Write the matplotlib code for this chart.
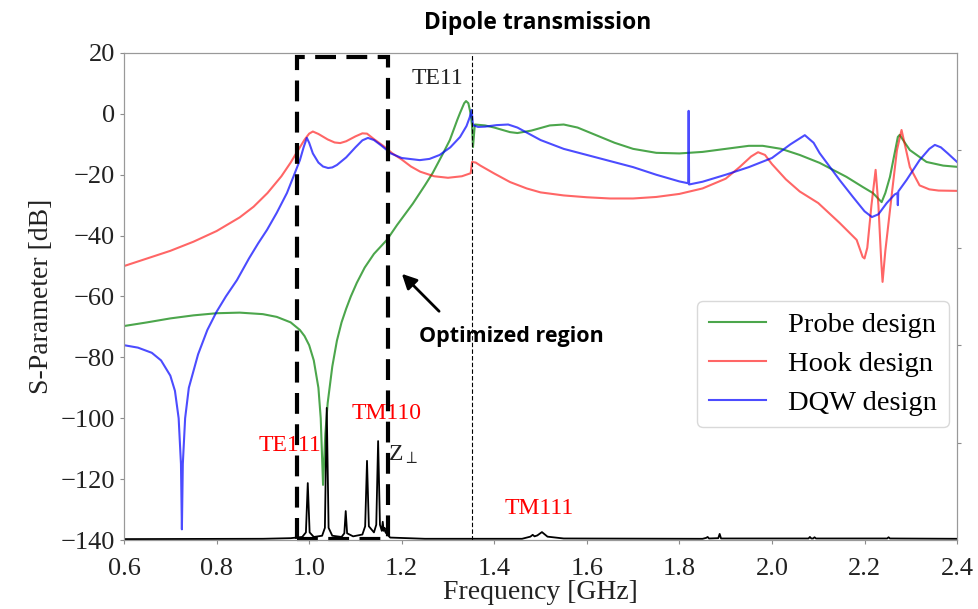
import numpy as np
import matplotlib.pyplot as plt
from matplotlib.patches import Rectangle

plt.rcParams["font.family"] = ["Liberation Serif", "DejaVu Serif"]
plt.rcParams["mathtext.fontset"] = "stix"

# Probe design (green)
probe_f = [0.60, 0.65, 0.70, 0.75, 0.80, 0.85, 0.90, 0.93, 0.96, 0.98, 0.99, 1.00, 1.01, 1.02,
           1.025, 1.030, 1.035, 1.040, 1.050, 1.060, 1.070, 1.080, 1.090, 1.103, 1.120, 1.140,
           1.168, 1.190, 1.224, 1.250, 1.267, 1.290, 1.304, 1.320, 1.326, 1.335, 1.339, 1.344,
           1.349, 1.352, 1.354, 1.358, 1.380, 1.400, 1.434, 1.450, 1.480, 1.520, 1.550, 1.580,
           1.620, 1.660, 1.700, 1.750, 1.800, 1.850, 1.900, 1.950, 1.980, 2.020, 2.060, 2.103,
           2.161, 2.196, 2.218, 2.237, 2.245, 2.255, 2.265, 2.272, 2.276, 2.285, 2.298, 2.334,
           2.370, 2.400]
probe_db = [-69.7, -68.5, -67.2, -66.2, -65.5, -65.3, -65.8, -66.7, -68.5, -71.0, -73.0, -76.0, -81.0, -90.0,
            -100.0, -121.9, -105.0, -95.0, -83.0, -74.5, -68.5, -64.0, -60.0, -55.5, -50.5, -46.0,
            -41.4, -36.5, -29.5, -23.5, -19.4, -12.8, -8.6, -2.0, 0.3, 3.5, 4.2, 3.5,
            0.0, -4.0, -10.9, -3.5, -3.8, -4.5, -6.0, -6.3, -5.5, -3.8, -3.5, -4.5,
            -7.0, -9.5, -11.5, -12.8, -13.0, -12.5, -11.5, -10.5, -10.5, -11.5, -13.5, -16.1,
            -20.7, -24.0, -26.0, -29.0, -26.0, -20.7, -13.0, -7.6, -6.9, -9.0, -11.9, -15.8,
            -17.0, -17.4]

# Hook design (red)
hook_f = [0.60, 0.65, 0.70, 0.75, 0.80, 0.85, 0.88, 0.91, 0.94, 0.96, 0.975, 0.99, 1.00, 1.008,
          1.02, 1.04, 1.055, 1.067, 1.08, 1.10, 1.115, 1.125, 1.14, 1.16, 1.18, 1.20, 1.22, 1.24, 1.27,
          1.30, 1.33, 1.349, 1.352, 1.36, 1.37, 1.40, 1.434, 1.47, 1.50, 1.55, 1.60, 1.65, 1.70,
          1.75, 1.80, 1.85, 1.90, 1.93, 1.955, 1.97, 1.985, 2.00, 2.03, 2.06, 2.10, 2.146, 2.183,
          2.196, 2.200, 2.206, 2.215, 2.224, 2.230, 2.236, 2.239, 2.245, 2.26, 2.27, 2.28, 2.29,
          2.298, 2.319, 2.34, 2.36, 2.40]
hook_db = [-50.0, -47.5, -45.0, -42.0, -38.5, -34.0, -30.5, -26.0, -20.5, -16.0, -12.2, -8.5, -6.5, -5.8,
           -6.6, -8.4, -9.4, -9.6, -9.0, -7.4, -6.4, -6.5, -8.3, -10.5, -13.0, -15.0, -17.3, -19.0, -20.5,
           -21.0, -20.5, -19.5, -15.8, -16.0, -17.0, -19.6, -22.4, -24.5, -25.8, -26.8, -27.4, -27.8, -27.8,
           -27.3, -26.3, -24.5, -21.3, -17.5, -14.0, -12.6, -13.5, -16.5, -21.5, -25.5, -29.3, -35.8, -41.4,
           -47.0, -47.5, -44.0, -30.0, -18.4, -30.0, -48.0, -55.2, -45.0, -25.0, -12.0, -5.3, -12.0,
           -17.5, -23.5, -24.8, -25.2, -25.3]

# DQW design (blue)
dqw_f = [0.60, 0.63, 0.66, 0.68, 0.70, 0.71, 0.718, 0.723, 0.725, 0.727, 0.732, 0.74, 0.76, 0.78,
         0.80, 0.82, 0.844, 0.87, 0.89, 0.909, 0.93, 0.952, 0.965, 0.98, 0.988, 0.995, 1.000, 1.008,
         1.02, 1.03, 1.041, 1.05, 1.06, 1.08, 1.10, 1.115, 1.127, 1.14, 1.155, 1.168, 1.175, 1.20,
         1.239, 1.26, 1.282, 1.305, 1.326, 1.34, 1.347, 1.351, 1.354, 1.365, 1.38, 1.405, 1.43, 1.45,
         1.50, 1.55, 1.60, 1.65, 1.70, 1.75, 1.80, 1.819, 1.820, 1.821, 1.85, 1.90, 1.95, 2.00, 2.04,
         2.071, 2.09, 2.103, 2.146, 2.175, 2.20, 2.216, 2.23, 2.248, 2.265, 2.271, 2.272, 2.273,
         2.291, 2.319, 2.34, 2.352, 2.365, 2.38, 2.40]
dqw_db = [-76.0, -76.8, -78.5, -81.0, -86.0, -91.0, -100.0, -115.0, -136.5, -115.0, -100.0, -90.0, -79.0, -71.0,
          -65.0, -60.0, -54.6, -47.5, -42.5, -38.1, -32.5, -26.0, -21.0, -15.2, -11.0, -7.9, -9.5, -13.0,
          -16.0, -17.3, -17.8, -17.6, -16.8, -14.3, -11.0, -8.7, -7.9, -8.6, -10.3, -11.9, -12.9, -14.5,
          -15.2, -14.8, -13.5, -11.0, -7.6, -4.0, -1.1, 1.3, -3.7, -4.3, -4.2, -3.7, -3.5, -4.5,
          -8.6, -11.5, -13.5, -15.5, -17.5, -20.0, -22.2, -22.8, 1.0, -23.2, -22.3, -20.0, -17.5, -14.5, -10.0,
          -7.0, -9.5, -12.9, -21.7, -27.3, -32.0, -33.9, -33.0, -29.3, -26.5, -26.0, -30.0, -25.5,
          -21.7, -15.2, -11.5, -10.2, -11.0, -13.0, -15.8]

# transverse impedance spectrum (black)
z_f = [0.60, 0.90, 0.96, 0.985, 0.993, 0.997, 1.001, 1.010, 1.028, 1.034, 1.038, 1.042, 1.050,
       1.070, 1.076, 1.079, 1.082, 1.095, 1.115, 1.121, 1.125, 1.129, 1.140, 1.145, 1.149, 1.153,
       1.157, 1.159, 1.161, 1.163, 1.165, 1.175, 1.25, 1.46, 1.478, 1.483, 1.487, 1.493, 1.503,
       1.515, 1.55, 1.85, 1.858, 1.861, 1.864, 1.884, 1.887, 1.890, 2.079, 2.082, 2.085, 2.089,
       2.092, 2.095, 2.249, 2.252, 2.255, 2.40]
z_db = [-139.7, -139.6, -139.4, -139.0, -137.5, -121.3, -137.5, -139.0, -138.6, -136.0, -96.6, -136.0, -138.6,
        -139.0, -137.8, -130.5, -137.8, -138.8, -138.2, -135.5, -114.0, -135.5, -137.5, -135.0, -107.5, -135.0,
        -137.0, -134.0, -137.0, -136.0, -137.5, -139.2, -139.6, -139.6, -138.9, -138.3, -138.8, -138.5, -137.4,
        -138.9, -139.5, -139.6, -139.3, -139.0, -139.5, -139.4, -138.0, -139.5, -139.5, -139.0, -139.5, -139.5,
        -139.1, -139.5, -139.5, -139.1, -139.5, -139.6]

te11_cutoff = 1.352
region = [0.974, 1.170]

fig = plt.figure(figsize=(9.79, 6.09), dpi=100)
ax = fig.add_axes([0.1267, 0.1133, 0.8509, 0.7997])

ax.plot(probe_f, probe_db, color="g", alpha=0.7, lw=1.5, label="Probe design")
ax.plot(hook_f, hook_db, color="r", alpha=0.6, lw=1.5, label="Hook design")
ax.plot(dqw_f, dqw_db, color="b", alpha=0.7, lw=1.5, label="DQW design")
ax.plot(z_f, z_db, color="k", lw=1.3, zorder=3)

ax.axvline(te11_cutoff, color="k", lw=0.8, ls=(0, (4, 2)), zorder=2)

rect = Rectangle((region[0], -139.6), region[1] - region[0], 18.7 + 139.6, fill=False,
                 ec="k", lw=3, ls=(0, (5, 2.5)), zorder=6, clip_on=False)
ax.add_patch(rect)

ax.text(1.278, 11.5, "TE11", fontsize=17, color="#222222", ha="center", va="center")
ax.text(0.959, -108.8, "TE111", fontsize=17, color="red", ha="center", va="center", zorder=4)
ax.text(1.168, -98.3, "TM110", fontsize=17, color="red", ha="center", va="center", zorder=4)
ax.text(1.496, -129.5, "TM111", fontsize=17, color="red", ha="center", va="center")
ax.text(1.170, -112, r"Z$_{\perp}$", fontsize=17, color="#222222", ha="left", va="center", zorder=4)

ax.annotate("", xy=(1.196, -51.9), xytext=(1.285, -65.5),
            arrowprops=dict(arrowstyle="-|>", color="k", lw=2, mutation_scale=22))
ax.text(1.436, -73, "Optimized region", fontsize=15.5, fontweight="bold", family="Open Sans",
        ha="center", va="center")

ax.set_xlim(0.6, 2.4)
ax.set_ylim(-140, 20)
ax.set_xticks(np.arange(0.6, 2.41, 0.2))
ax.set_yticks(np.arange(-140, 21, 20))
ax.tick_params(labelsize=19, color="0.55", length=3, labelcolor="#222222")
ax.tick_params(axis="x", pad=10)
ax.set_xlabel("Frequency [GHz]", fontsize=20, color="#222222", labelpad=0)
ax.set_ylabel("S-Parameter [dB]", fontsize=20, color="#222222", labelpad=5)
for s in ax.spines.values():
    s.set_color("0.6")

ax2 = ax.twinx()
ax2.set_ylim(0, 1)
ax2.set_yticks([0.2, 0.4, 0.6, 0.8])
ax2.set_yticklabels([])
ax2.tick_params(color="0.55", length=3)
for s in ax2.spines.values():
    s.set_color("0.6")

ax.legend(fontsize=20.5, loc="lower right", bbox_to_anchor=(0.99, 0.232), borderaxespad=0,
          framealpha=1, edgecolor="0.85", labelspacing=0.45)

fig.text(0.549, 0.963, "Dipole transmission", fontsize=16.5, fontweight="bold", family="Open Sans",
         ha="center", va="center")

fig.savefig("out.png", dpi=100)
